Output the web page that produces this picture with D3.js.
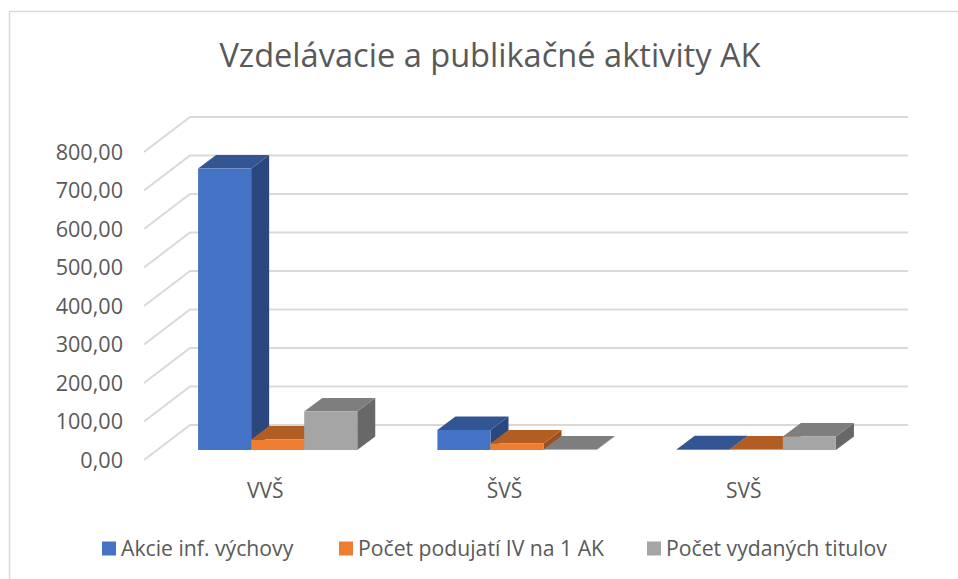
<!DOCTYPE html>
<html>
<head>
<meta charset="utf-8">
<script src="https://cdn.jsdelivr.net/npm/d3@7/dist/d3.min.js"></script>
<style>
html, body { margin: 0; padding: 0; background: #fff; overflow: hidden; }
text { font-family: "Open Sans", "Noto Sans", sans-serif; fill: #595959; }
</style>
</head>
<body>
<svg id="chart" width="958" height="579" style="display:block"></svg>
<script>
var title = 'Vzdelávacie a publikačné aktivity AK';
var categories = ['VVŠ', 'ŠVŠ', 'SVŠ'];
var seriesNames = ['Akcie inf. výchovy', 'Počet podujatí IV na 1 AK', 'Počet vydaných titulov'];
var akcie = [731, 52, 2];
var podujatia = [27, 17, 1];
var tituly = [100, 1, 35];
var yTicks = [0, 100, 200, 300, 400, 500, 600, 700, 800];
var seriesValues = [akcie, podujatia, tituly];

var colors = [
	{front: '#4472c4', top: '#335593', side: '#2a4780'},
	{front: '#ed7d31', top: '#b25e22', side: '#9a511d'},
	{front: '#a5a5a5', top: '#7e7e7e', side: '#686868'}
];

var svg = d3.select('#chart');

// floor depth of the 3d box, front edge to back wall
var depthX = 46, depthY = -35;
// the bars stand part way into that depth
var barDepthX = 18, barDepthY = -13.5, barShiftX = 14, barShiftY = -10;

var x = d3.scaleBand().domain(categories).range([144, 862]).paddingInner(0.335).paddingOuter(0.1675);
var xSeries = d3.scaleBand().domain(d3.range(seriesNames.length)).range([0, x.bandwidth()]);
var y = d3.scaleLinear().domain([0, 800]).range([460, 152]);

// chart frame, runs off the right and bottom of the picture
svg.append('rect').attr('x', 9.5).attr('y', 11.5).attr('width', 1000).attr('height', 620)
	.attr('fill', '#fff').attr('stroke', '#d9d9d9').attr('stroke-width', 1.5);

svg.append('text').attr('x', 490).attr('y', 67).attr('text-anchor', 'middle')
	.style('font-size', '32.6px').text(title);

// gridlines on floor and back wall
var grid = svg.append('g').attr('fill', 'none').attr('stroke', '#d9d9d9').attr('stroke-width', 2);
yTicks.forEach(function(t) {
	var path = d3.path();
	path.moveTo(x.range()[0], y(t));
	path.lineTo(x.range()[0] + depthX, y(t) + depthY);
	path.lineTo(x.range()[1] + depthX, y(t) + depthY);
	grid.append('path').attr('d', path.toString());
});

// y axis labels, the axis line itself is not visible
var yAxis = d3.axisLeft(y).tickValues(yTicks).tickSize(0).tickPadding(21)
	.tickFormat(function(d) { return d3.format('.2f')(d).replace('.', ','); });
svg.append('g').attr('transform', 'translate(144,0.5)').call(yAxis)
	.call(function(g) { g.select('.domain').remove(); })
	.selectAll('text').style('font-size', '21.6px').style('fill', '#595959');

var xAxis = d3.axisBottom(x).tickSize(0).tickPadding(0);
svg.append('g').attr('transform', 'translate(1.5,483)').call(xAxis)
	.call(function(g) { g.select('.domain').remove(); })
	.selectAll('text').style('font-size', '21px').style('fill', '#595959');

function poly(points) {
	return points.map(function(p) { return p.join(','); }).join(' ');
}

// draw back to front so nearer bars cover the sides of the ones behind
categories.forEach(function(cat, c) {
	seriesValues.forEach(function(values, s) {
		var x0 = x(cat) + xSeries(s) + barShiftX;
		var x1 = x0 + xSeries.bandwidth();
		var yBase = y(0) + barShiftY;
		var yTop = y(values[c]) + barShiftY;
		var g = svg.append('g').attr('class', 'bar');
		g.append('polygon').attr('fill', colors[s].side).attr('points', poly([
			[x1, yTop], [x1 + barDepthX, yTop + barDepthY], [x1 + barDepthX, yBase + barDepthY], [x1, yBase]
		]));
		g.append('polygon').attr('fill', colors[s].top).attr('points', poly([
			[x0, yTop], [x0 + barDepthX, yTop + barDepthY], [x1 + barDepthX, yTop + barDepthY], [x1, yTop]
		]));
		g.append('rect').attr('fill', colors[s].front)
			.attr('x', x0).attr('y', yTop).attr('width', x1 - x0).attr('height', yBase - yTop);
	});
});

// legend
var legendX = [102, 339, 647];
var legend = svg.append('g');
seriesNames.forEach(function(name, i) {
	legend.append('rect').attr('x', legendX[i]).attr('y', 541.5).attr('width', 14).attr('height', 14)
		.attr('fill', colors[i].front);
	legend.append('text').attr('x', legendX[i] + 19).attr('y', 555.5)
		.style('font-size', '21.2px').text(name);
});
</script>
</body>
</html>
